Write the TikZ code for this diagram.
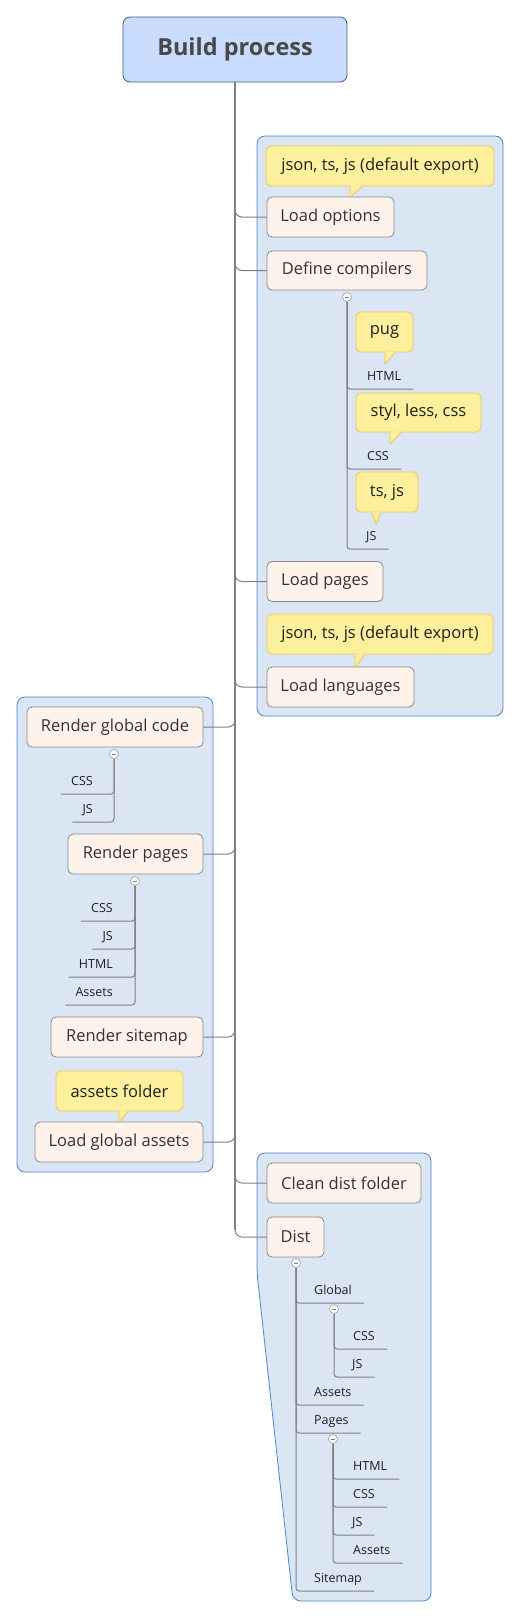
\documentclass[tikz,border=0pt]{standalone}
\usepackage{fontspec}
\setmainfont{Open Sans}
\definecolor{rootfill}{RGB}{201,220,253}
\definecolor{rootdraw}{RGB}{72,88,130}
\definecolor{roottext}{RGB}{72,72,72}
\definecolor{regfill}{RGB}{218,230,244}
\definecolor{regdraw}{RGB}{76,134,200}
\definecolor{topfill}{RGB}{253,243,235}
\definecolor{topdraw}{RGB}{138,138,138}
\definecolor{callfill}{RGB}{252,240,156}
\definecolor{calldraw}{RGB}{244,196,92}
\definecolor{linec}{RGB}{128,128,128}
\definecolor{txt}{RGB}{51,51,51}
\newcommand\calltail[5]{%
  \fill[callfill] ([xshift=#2pt,yshift=1pt]#1.south) -- ([xshift=#3pt,yshift=-#5pt]#1.south) -- ([xshift=#4pt,yshift=1pt]#1.south) -- cycle;
  \draw[calldraw, line width=0.8pt, line join=round] ([xshift=#2pt]#1.south) -- ([xshift=#3pt,yshift=-#5pt]#1.south) -- ([xshift=#4pt]#1.south);
}
\tikzset{
  topic/.style={draw=topdraw, fill=topfill, rounded corners=5pt, minimum height=40pt, inner sep=0pt, text=txt, font=\fontsize{16.5}{19}\selectfont, line width=0.8pt},
  callout/.style={draw=calldraw, fill=callfill, rounded corners=5pt, minimum height=40pt, inner sep=0pt, text=black!88, font=\fontsize{16.5}{19}\selectfont, line width=0.8pt},
  region/.style={draw=regdraw, fill=regfill, rounded corners=8pt, line width=0.8pt},
  conn/.style={draw=linec, line width=1pt},
  trunk/.style={draw=linec, line width=1.6pt},
  sub/.style={font=\fontsize{12.5}{14}\selectfont, text=black!88, inner xsep=0pt, inner ysep=8pt, text height=8.5pt, text depth=0pt},
  collapse/.style={circle, draw=gray!75, fill=white, minimum size=9pt, inner sep=0pt, line width=0.6pt,
    path picture={\draw[gray, line width=0.7pt] ([xshift=-2.3pt]path picture bounding box.center) -- ([xshift=2.3pt]path picture bounding box.center);}},
}
\begin{document}
\begin{tikzpicture}[x=1pt,y=-1pt]
\useasboundingbox (0,0) rectangle (520,1617);
% regions
\path[region] (257,136) rectangle (503,716);
\path[region] (17,697) rectangle (213,1172);
\path[region] (257,1153) -- (431,1153) -- (431,1601) -- (293,1601) -- (257,1273) -- cycle;

% root
\node[draw=rootdraw, fill=rootfill, rounded corners=7pt, minimum width=224pt, minimum height=65pt, line width=0.8pt,
      font=\bfseries\fontsize{23.5}{27}\selectfont, text=roottext] (root) at (235,49.5) {Build process};

% topics
\node[topic, minimum width=127pt] (lo) at (330.5,217) {Load options};
\node[topic, minimum width=160pt, minimum height=39pt] (dc) at (347,270.5) {Define compilers};
\node[topic, minimum width=116pt] (lp) at (325,581.5) {Load pages};
\node[topic, minimum width=147pt] (ll) at (340.5,687) {Load languages};
\node[topic, minimum width=176pt] (rgc) at (115,727) {Render global code};
\node[topic, minimum width=135pt] (rp) at (135.5,854) {Render pages};
\node[topic, minimum width=152pt] (rs) at (127,1037) {Render sitemap};
\node[topic, minimum width=168pt] (lga) at (119,1142) {Load global assets};
\node[topic, minimum width=154pt] (cdf) at (344,1183) {Clean dist folder};
\node[topic, minimum width=57pt] (dist) at (295.5,1237) {Dist};

% trunk and branches
\draw[trunk] (root.south) -- ([yshift=7pt]root.south |- dist.west);
\foreach \n in {lo,dc,lp,ll,cdf,dist}{
  \draw[conn, rounded corners=7pt] (root.south |- \n.west) ++(0,-10) |- (\n.west);
}
\foreach \n in {rgc,rp,rs,lga}{
  \draw[conn, rounded corners=7pt] (root.south |- \n.east) ++(0,-10) |- (\n.east);
}

% callouts
\node[callout, minimum width=228pt] (c1) at (380,166) {json, ts, js (default export)};
\calltail{c1}{-30}{-30}{-18}{11}
\node[callout, minimum width=226pt] (c2) at (380,634) {json, ts, js (default export)};
\calltail{c2}{-25}{-25}{-15}{13}
\node[callout, minimum width=127pt] (af) at (119.5,1091) {assets folder};
\calltail{af}{-0.5}{-0.5}{8.5}{11}

% Define compilers subtree
\node[collapse] (dcc) at (347,297) {};
\node[callout, minimum width=57pt] (pug) at (384.5,332) {pug};
\calltail{pug}{0.5}{0.5}{10.5}{12}
\node[sub, anchor=south west] (dhtml) at (367,389) {HTML};
\node[callout, minimum width=125pt, minimum height=39pt] (styl) at (418.5,412.5) {styl, less, css};
\calltail{styl}{-28.5}{-28.5}{-17.5}{12}
\node[sub, anchor=south west] (dcss) at (367,469) {CSS};
\node[callout, minimum width=62pt] (tsjs) at (387,492) {ts, js};
\calltail{tsjs}{-15}{-11}{-6}{12}
\node[sub, anchor=south west] (djs) at (366,549) {JS};
\foreach \n in {dhtml,dcss,djs}{
  \draw[conn, rounded corners=3pt] (dcc.south) |- ([xshift=12pt]\n.south east);
}

% Render global code subtree
\node[collapse] (rgcc) at (114,754) {};
\node[sub, anchor=south east] (gcss) at (93,794) {CSS};
\node[sub, anchor=south east] (gjs) at (93,822) {JS};
\foreach \n in {gcss,gjs}{
  \draw[conn, rounded corners=3pt] (rgcc.south) |- ([xshift=-10pt]\n.south west);
}

% Render pages subtree
\node[collapse] (rpc) at (135,881) {};
\node[sub, anchor=south east] (pcss) at (113,921) {CSS};
\node[sub, anchor=south east] (pjs) at (113,949) {JS};
\node[sub, anchor=south east] (phtml) at (113,977) {HTML};
\node[sub, anchor=south east] (passets) at (113,1005) {Assets};
\foreach \n in {pcss,pjs,phtml,passets}{
  \draw[conn, rounded corners=3pt] (rpc.south) |- ([xshift=-10pt]\n.south west);
}

% Dist subtree
\node[collapse] (distc) at (296,1263) {};
\node[sub, anchor=south west] (dglobal) at (314,1303) {Global};
\node[sub, anchor=south west] (dassets) at (314,1405) {Assets};
\node[sub, anchor=south west] (dpages) at (314,1433) {Pages};
\node[sub, anchor=south west] (dsitemap) at (314,1591) {Sitemap};
\foreach \n in {dglobal,dassets,dpages,dsitemap}{
  \draw[conn, rounded corners=3pt] (distc.south) |- ([xshift=12pt]\n.south east);
}
\node[collapse] (globc) at (334,1309) {};
\node[sub, anchor=south west] (gcss2) at (353,1349) {CSS};
\node[sub, anchor=south west] (gjs2) at (352,1377) {JS};
\foreach \n in {gcss2,gjs2}{
  \draw[conn, rounded corners=3pt] (globc.south) |- ([xshift=12pt]\n.south east);
}
\node[collapse] (pagc) at (333,1439) {};
\node[sub, anchor=south west] (qhtml) at (353,1479) {HTML};
\node[sub, anchor=south west] (qcss) at (353,1507) {CSS};
\node[sub, anchor=south west] (qjs) at (352,1535) {JS};
\node[sub, anchor=south west] (qassets) at (353,1563) {Assets};
\foreach \n in {qhtml,qcss,qjs,qassets}{
  \draw[conn, rounded corners=3pt] (pagc.south) |- ([xshift=12pt]\n.south east);
}
\end{tikzpicture}
\end{document}
